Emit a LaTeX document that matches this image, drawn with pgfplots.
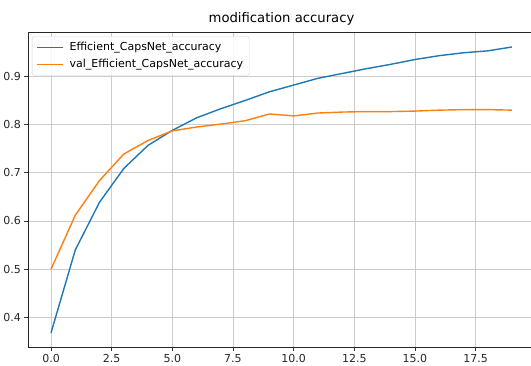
\documentclass[border=0pt]{standalone}
\usepackage{pgfplots}
\pgfplotsset{compat=1.18}
\usepackage{fontspec}
\setmainfont{DejaVu Sans}
\definecolor{mplblue}{HTML}{1F77B4}
\definecolor{mplorange}{HTML}{FF7F0E}
\begin{document}
\begin{tikzpicture}
\clip (-28pt,-18pt) rectangle (503pt,347pt);
\begin{axis}[
  scale only axis,
  width=507pt, height=314.7pt,
  xmin=-0.95, xmax=19.95,
  ymin=0.3385, ymax=0.9915,
  xtick={0,2.5,5,7.5,10,12.5,15,17.5},
  ytick={0.4,0.5,0.6,0.7,0.8,0.9},
  xticklabel style={/pgf/number format/.cd,fixed,fixed zerofill,precision=1},
  yticklabel style={/pgf/number format/.cd,fixed,fixed zerofill,precision=1},
  /pgf/number format/assume math mode=true,
  tick label style={font=\fontsize{11}{13}\selectfont, text=black!85},
  tick align=outside,
  tick pos=left,
  major tick length=3.5pt,
  every tick/.style={black!80, line width=0.8pt},
  grid=major,
  major grid style={gray!40, line width=0.8pt},
  axis line style={black!85, line width=0.8pt},
  title={modification accuracy},
  title style={font=\fontsize{13.2}{15}\selectfont, yshift=-2pt},
  legend style={at={(0,1)}, anchor=north west, xshift=4pt, yshift=-4pt,
    draw=gray!35, rounded corners=2pt, fill=white, fill opacity=0.85, text opacity=1,
    font=\fontsize{11}{13}\selectfont, inner xsep=4pt, inner ysep=4pt,
    row sep=3pt},
  legend cell align=left,
  legend image code/.code={\draw[#1] (0pt,0pt) -- (26pt,0pt); \path (30pt,0pt);},
]
\addplot[mplblue, line width=1.4pt] coordinates {
(0,0.368) (1,0.540) (2,0.639) (3,0.709) (4,0.757) (5,0.788) (6,0.814) (7,0.833)
(8,0.850) (9,0.868) (10,0.882) (11,0.896) (12,0.906) (13,0.916) (14,0.925)
(15,0.935) (16,0.943) (17,0.949) (18,0.953) (19,0.961)};
\addlegendentry{Efficient\_CapsNet\_accuracy}
\addplot[mplorange, line width=1.4pt] coordinates {
(0,0.500) (1,0.612) (2,0.684) (3,0.739) (4,0.767) (5,0.787) (6,0.795) (7,0.801)
(8,0.808) (9,0.822) (10,0.818) (11,0.824) (12,0.826) (13,0.827) (14,0.827)
(15,0.828) (16,0.830) (17,0.831) (18,0.831) (19,0.830)};
\addlegendentry{val\_Efficient\_CapsNet\_accuracy}
\end{axis}
\end{tikzpicture}
\end{document}
